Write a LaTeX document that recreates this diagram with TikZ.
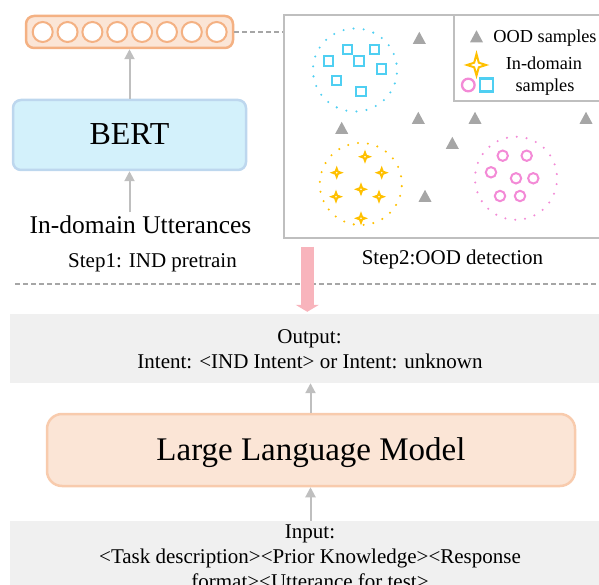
\documentclass[tikz,border=0pt]{standalone}
\usepackage{fontspec}
\setmainfont{Liberation Serif}
\usetikzlibrary{arrows.meta}
\definecolor{orgfill}{HTML}{FBE5D6}
\definecolor{orgline}{HTML}{F4B183}
\definecolor{llmline}{HTML}{F8CBAD}
\definecolor{bertfill}{HTML}{D3F1FB}
\definecolor{bertline}{HTML}{BDD7EE}
\definecolor{gline}{HTML}{BFBFBF}
\definecolor{gdash}{HTML}{A6A6A6}
\definecolor{gtri}{HTML}{A6A6A6}
\definecolor{gbox}{HTML}{F0F0F0}
\definecolor{cyanc}{HTML}{4FCFF2}
\definecolor{pinkc}{HTML}{F38AD6}
\definecolor{goldc}{HTML}{FFC000}
\definecolor{pinkarrow}{HTML}{F8B4BC}
\begin{document}
\begin{tikzpicture}[x=1pt,y=-1pt,
  arr/.style={draw=gline, line width=2pt, -{Triangle[length=10pt,width=10pt]}},
  pinkarr/.style={draw=pinkarrow, line width=13pt, -{Triangle[length=7pt,width=23pt]}},
  gdashline/.style={draw=gdash, line width=2pt, dash pattern=on 5pt off 3pt},
  frm/.style={draw=gline, line width=2.6pt, inner sep=0pt},
  txt/.style={inner sep=0pt, anchor=base, text=black},
  ostar/.pic={\fill[goldc] (0,-7) -- (1.9,-1.9) -- (7,0) -- (1.9,1.9) -- (0,7) -- (-1.9,1.9) -- (-7,0) -- (-1.9,-1.9) -- cycle; \fill[white] (0,0) circle (0.9);},
  otri/.pic={\fill[gtri] (-6.5,5.8) -- (6.5,5.8) -- (0,-6.2) -- cycle;},
  osq/.pic={\draw[cyanc, line width=2pt] (-4.6,-4.6) rectangle (4.6,4.6);},
  ocirc/.pic={\draw[pinkc, line width=2pt] (0,0) circle (5.2);}
]
\useasboundingbox (0,0) rectangle (599,585);

% ---------- Step 1 ----------
\node[draw=orgline, fill=orgfill, line width=2.5pt, rounded corners=8pt,
      minimum width=207pt, minimum height=32pt, inner sep=0pt] (vec) at (129.5,32) {};
\foreach \k in {0,...,7}
  \draw[orgline, line width=2pt, fill=white] (42.7+\k*24.85,32) circle (10);

\node[draw=bertline, fill=bertfill, line width=2.5pt, rounded corners=8pt,
      minimum width=233pt, minimum height=70pt, inner sep=0pt] (bert) at (129.5,135) {};
\node[txt, font=\fontsize{32}{38}\selectfont] (berttxt) at (129.5,145) {BERT};

\node[txt, font=\fontsize{25.5}{30}\selectfont, inner ysep=3pt] (utt) at (140.5,233.3) {In-domain Utterances};
\node[txt, font=\fontsize{21}{25}\selectfont] (step1) at (152.5,267.5) {Step1: IND pretrain};

\draw[arr] (bert.north) -- (vec.south);
\draw[arr] (utt.north -| bert.south) -- (bert.south);

% ---------- Step 2 frame ----------
\node[frm, minimum width=331pt, minimum height=223pt] (frame) at (449.5,126.5) {};
\node[frm, minimum width=161pt, minimum height=86pt] (legend) at (534.5,58) {};
\draw[gdashline] (vec.east) -- (vec.east -| frame.west);

% legend content
\pic at (476.5,36.5) {otri};
\node[txt, font=\fontsize{18.3}{22}\selectfont] (lg1) at (545,42.3) {OOD samples};
\draw[goldc, line width=2pt, fill=white] (476.5,54) -- (478.8,62.7) -- (486,65) -- (478.8,67.3) -- (476.5,75.5) -- (474.2,67.3) -- (467,65) -- (474.2,62.7) -- cycle;
\draw[pinkc, line width=2.3pt] (468.3,85) circle (6.3);
\draw[cyanc, line width=2.3pt] (480.3,78.6) rectangle (493.1,91.4);
\node[txt, font=\fontsize{18.3}{22}\selectfont] (lg2) at (544,70) {In-domain};
\node[txt, font=\fontsize{18.3}{22}\selectfont] (lg3) at (545,91.7) {samples};

% dotted cluster boundaries
\foreach \a in {0,...,25} {
  \fill[cyanc] ({355+42*cos(\a*360/26+5)},{70+41.5*sin(\a*360/26+5)}) circle (1.15);
  \fill[goldc] ({360.8+41*cos(\a*360/26+3)},{184+41*sin(\a*360/26+3)}) circle (1.15);
  \fill[pinkc] ({516+41*cos(\a*360/26+8)},{178.3+41.5*sin(\a*360/26+8)}) circle (1.15);
}
% blue squares
\foreach \p in {(347.7,49.3),(374.3,49.3),(328.3,61),(359,61),(381.7,69),(336.7,80.7),(361,91.7)}
  \pic at \p {osq};
% gold stars
\foreach \p in {(365,156.7),(336.7,172.7),(381.7,172.7),(361,189.3),(336,196.7),(379,196.7),(361,218.3)}
  \pic at \p {ostar};
% pink circles
\foreach \p in {(502.7,155.7),(526.7,155.7),(491,172.3),(516,178.3),(533.3,178.3),(500,196),(520,196)}
  \pic at \p {ocirc};
% OOD triangles
\foreach \p in {(419.3,38),(418.3,118),(475,118),(586,118),(341.7,128),(452.3,143),(425,196)}
  \pic at \p {otri};

\node[txt, font=\fontsize{21}{25}\selectfont] (step2) at (452.5,264) {Step2:OOD detection};

% ---------- separator ----------
\coordinate (sepL) at (15,284);
\coordinate (sepR) at (599,284);
\draw[gdashline] (sepL) -- (sepR);

% ---------- LLM part ----------
\node[fill=gbox, minimum width=600pt, minimum height=69pt, inner sep=0pt] (outbox) at (310,348.5) {};
\node[draw=llmline, fill=orgfill, line width=2.5pt, rounded corners=15pt,
      minimum width=528pt, minimum height=72pt, inner sep=0pt] (llm) at (311,450) {};
\node[fill=gbox, minimum width=600pt, minimum height=100pt, inner sep=0pt] (inbox) at (310,571) {};

\node[txt, font=\fontsize{21}{25}\selectfont] (out1) at (309.5,343.3) {Output:};
\node[txt, font=\fontsize{21}{25}\selectfont] (out2) at (310,368.3) {Intent: <IND Intent> or Intent: unknown};
\node[txt, font=\fontsize{33}{40}\selectfont] (llmtxt) at (311,460) {Large Language Model};
\node[txt, font=\fontsize{21}{25}\selectfont] (in1) at (310,538.3) {Input:};
\node[txt, font=\fontsize{21}{25}\selectfont] (in2) at (310,563.3) {<Task description><Prior Knowledge><Response};
\node[txt, font=\fontsize{21}{25}\selectfont] (in3) at (310,588.3) {format><Utterance for test>};

\draw[arr] (llm.north -| 310.5,0) -- (outbox.south -| 310.5,0);
\draw[arr] (inbox.north -| 310.5,0) -- (llm.south -| 310.5,0);

\coordinate (pinkstart) at (307.3,246.7);
\draw[pinkarr, shorten >=2pt] (pinkstart) -- (pinkstart |- outbox.north);
\end{tikzpicture}
\end{document}
